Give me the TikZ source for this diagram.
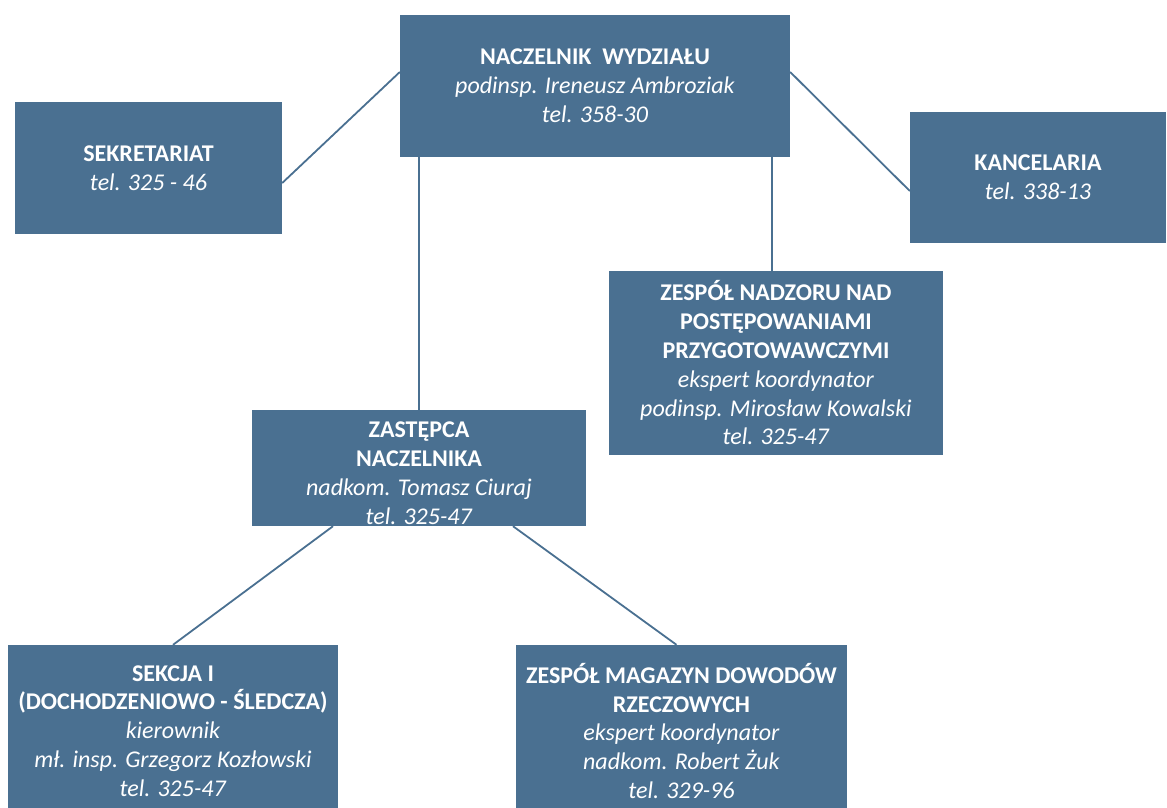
\documentclass[tikz,border=0pt]{standalone}
\usepackage{fontspec}
\setmainfont{Carlito}
\usetikzlibrary{positioning,calc}
\definecolor{unitblue}{HTML}{4A7091}

\begin{document}
\begin{tikzpicture}[x=1pt, y=-1pt,
                    every unit/.style = {fill=unitblue, text=white, align=center},
                    unit box/.style = {rectangle, inner sep=0pt, every unit,
                            font=\fontsize{24}{28.8}\selectfont},
                    link/.style = {draw=unitblue, line width=1.8pt} ]

                \useasboundingbox (0,0) rectangle (1167,807);

                \node [unit box, minimum width=390pt, minimum height=142pt] (naczelnik) at (595,86)
                    {\textbf{NACZELNIK\ \ WYDZIAŁU}\\ \textit{podinsp. Ireneusz Ambroziak}\\ \textit{tel. 358-30}};
                \node [unit box, minimum width=267pt, minimum height=132pt] (sekretariat) at (148.5,168)
                    {\textbf{SEKRETARIAT}\\ \textit{tel. 325 - 46}};
                \node [unit box, minimum width=256pt, minimum height=131pt] (kancelaria) at (1038,177)
                    {\textbf{KANCELARIA}\\ \textit{tel. 338-13}};
                \node [unit box, minimum width=334pt, minimum height=184pt] (nadzor) at (776,363)
                    {\textbf{ZESPÓŁ NADZORU NAD}\\ \textbf{POSTĘPOWANIAMI}\\ \textbf{PRZYGOTOWAWCZYMI}\\
                     \textit{ekspert koordynator}\\ \textit{podinsp. Mirosław Kowalski}\\ \textit{tel. 325-47}};
                \node [unit box, minimum width=334pt, minimum height=116pt] (zastepca) at (419,468)
                    {\rule{0pt}{26pt}\textbf{ZASTĘPCA}\\ \textbf{NACZELNIKA}\\ \textit{nadkom. Tomasz Ciuraj}\\ \textit{tel. 325-47}};
                \node [unit box, minimum width=330pt, minimum height=172pt] (sekcja) at (173,731)
                    {\textbf{SEKCJA I}\\ \textbf{(DOCHODZENIOWO - ŚLEDCZA)}\\ \textit{kierownik}\\
                     \textit{mł. insp. Grzegorz Kozłowski}\\ \textit{tel. 325-47}};
                \node [unit box, minimum width=331pt, minimum height=172pt] (magazyn) at (681.5,731)
                    {\textbf{ZESPÓŁ MAGAZYN DOWODÓW}\\ \textbf{RZECZOWYCH}\\ \textit{ekspert koordynator}\\
                     \textit{nadkom. Robert Żuk}\\ \textit{tel. 329-96}};

                % connectors from the head
                \draw [link] ([yshift=-15pt]sekretariat.east) -- ([yshift=14pt]naczelnik.west);
                \draw [link] ([yshift=14pt]naczelnik.east) -- ([yshift=-14pt]kancelaria.west);
                \draw [link] (zastepca.north) -- (zastepca.north |- naczelnik.south);
                \draw [link] ([xshift=-4pt]nadzor.north) -- ([xshift=-4pt]nadzor.north |- naczelnik.south);
                % connectors from the deputy
                \draw [link] ([xshift=-86pt]zastepca.south) -- (sekcja.north);
                \draw [link] ([xshift=94pt]zastepca.south) -- ([xshift=-5pt]magazyn.north);

            \end{tikzpicture}
\end{document}
